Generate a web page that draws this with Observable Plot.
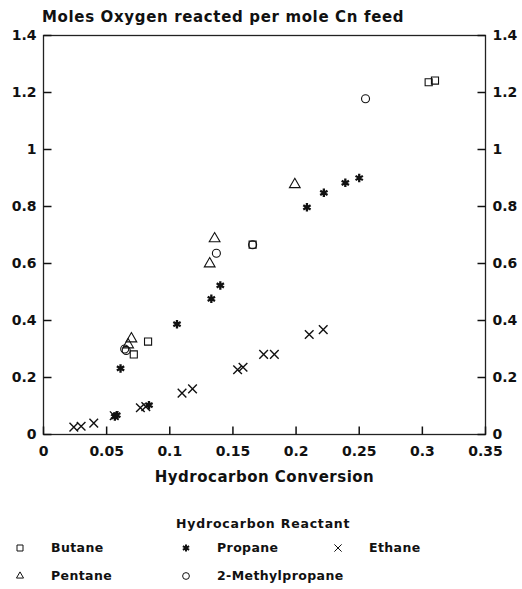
<!DOCTYPE html>
<html><head><meta charset="utf-8">
<script src="https://cdn.jsdelivr.net/npm/d3@7"></script>
<script src="https://cdn.jsdelivr.net/npm/@observablehq/plot@0.6"></script>
<style>
body{margin:0;background:#fff;font-family:"DejaVu Sans",sans-serif;font-weight:bold;color:#111}
#wrap{position:relative;width:522px;height:589px}
#title{position:absolute;left:42px;top:8px;font-size:15px;letter-spacing:0.65px}
#legend{position:absolute;left:0;top:510px;width:522px;font-size:12.5px}
.lt{position:absolute;left:176px;top:6px;letter-spacing:0.8px}
.it{position:absolute;display:flex;align-items:center;letter-spacing:0.4px}
.it svg{margin-right:25px}
</style></head>
<body><div id="wrap"><div id="title">Moles Oxygen reacted per mole Cn feed</div><div id="chart"></div><div id="legend"></div></div>
<script>
const series = ["Butane","Propane","Ethane","Pentane","2-Methylpropane"];
const symbols = ["square","asterisk","times","triangle","circle"];
const butaneX = [0.0715, 0.0828, 0.1656, 0.305, 0.310];
const butaneY = [0.281, 0.326, 0.666, 1.236, 1.242];
const propaneX = [0.0565, 0.058, 0.061, 0.0835, 0.1057, 0.1329, 0.140, 0.2086, 0.222, 0.239, 0.250];
const propaneY = [0.063, 0.068, 0.232, 0.103, 0.387, 0.476, 0.523, 0.797, 0.848, 0.883, 0.900];
const ethaneX = [0.024, 0.0298, 0.0398, 0.056, 0.0767, 0.081, 0.1097, 0.118, 0.1537, 0.158, 0.1743, 0.1828, 0.2104, 0.2215];
const ethaneY = [0.026, 0.029, 0.040, 0.066, 0.094, 0.098, 0.145, 0.160, 0.227, 0.236, 0.281, 0.281, 0.351, 0.368];
const pentaneX = [0.067, 0.0696, 0.1316, 0.1355, 0.199];
const pentaneY = [0.315, 0.336, 0.599, 0.687, 0.877];
const methylX = [0.0643, 0.0655, 0.1369, 0.1656, 0.255];
const methylY = [0.300, 0.295, 0.636, 0.666, 1.178];
const xTicks = [0,0.05,0.1,0.15,0.2,0.25,0.3,0.35];
const yTicks = [0,0.2,0.4,0.6,0.8,1,1.2,1.4];

const xs = [butaneX, propaneX, ethaneX, pentaneX, methylX];
const ys = [butaneY, propaneY, ethaneY, pentaneY, methylY];
const data = [];
series.forEach((s,i)=>xs[i].forEach((x,j)=>data.push({s, x, y: ys[i][j]})));

const W = 522, H = 492, ML = 43, MR = 37, MT = 35, MB = 58, TL = 8;
const xDom = [0, 0.35], yDom = [0, 1.4];
const tx = TL / (W - ML - MR) * (xDom[1] - xDom[0]);
const ty = TL / (H - MT - MB) * (yDom[1] - yDom[0]);
const xt = xTicks.map(v => ({v}));
const yt = yTicks.map(v => ({v}));
const fmt = d => String(+d.toFixed(2));
const chart = Plot.plot({
  width: W, height: H,
  marginLeft: ML, marginRight: MR, marginTop: MT, marginBottom: MB,
  style: {fontFamily: '"DejaVu Sans", sans-serif', fontWeight: "bold", fontSize: "14px", color: "#111", background: "#fff"},
  x: {domain: xDom},
  y: {domain: yDom},
  symbol: {domain: series, range: symbols},
  marks: [
    Plot.frame({stroke: "#222", strokeWidth: 1.3}),
    Plot.link(xt, {x1: "v", x2: "v", y1: () => yDom[0], y2: () => yDom[0] + ty, stroke: "#111", strokeWidth: 1.5}),
    Plot.link(yt, {y1: "v", y2: "v", x1: () => xDom[0], x2: () => xDom[0] + tx, stroke: "#111", strokeWidth: 1.5}),
    Plot.link(yt, {y1: "v", y2: "v", x1: () => xDom[1] - tx, x2: () => xDom[1], stroke: "#111", strokeWidth: 1.5}),
    Plot.axisX({ticks: xTicks, tickFormat: fmt, tickSize: 0, tickPadding: 12, fontSize: 14, label: null}),
    Plot.axisY({ticks: yTicks, tickFormat: fmt, tickSize: 0, tickPadding: 7, fontSize: 14, label: null}),
    Plot.axisY({anchor: "right", ticks: yTicks, tickFormat: fmt, tickSize: 0, tickPadding: 7, fontSize: 14, label: null}),
    Plot.text(["Hydrocarbon Conversion"], {frameAnchor: "bottom", dy: 47, fontSize: 15, fontWeight: "bold"}),
    Plot.dot(data, {x: "x", y: "y", symbol: "s", r: 4, stroke: "#111", strokeWidth: d => d.s === "Propane" ? 2.3 : (d.s === "Ethane" ? 1.4 : 1.1)})
  ]
});
document.getElementById("chart").appendChild(chart);
chart.querySelectorAll("text").forEach(el => { if (el.textContent === "Hydrocarbon Conversion") el.style.letterSpacing = "0.5px"; });

// legend
const leg = document.getElementById("legend");
const t = document.createElement("div"); t.className = "lt"; t.textContent = "Hydrocarbon Reactant"; leg.appendChild(t);
const pos = [[14,30],[180,30],[332,30],[14,58],[180,58]];
series.forEach((s,i)=>{
  const d = document.createElement("div"); d.className = "it";
  d.style.left = pos[i][0] + "px"; d.style.top = pos[i][1] + "px";
  const svg = d3.create("svg").attr("width", 12).attr("height", 14);
  const symType = {square: d3.symbolSquare, asterisk: d3.symbolAsterisk, times: d3.symbolTimes, triangle: d3.symbolTriangle2, circle: d3.symbolCircle}[symbols[i]];
  svg.append("path").attr("transform","translate(6,7)").attr("d", d3.symbol(symType, 36)()).attr("fill","none").attr("stroke","#111").attr("stroke-width", i===1?2:1);
  d.appendChild(svg.node());
  const sp = document.createElement("span"); sp.textContent = s; d.appendChild(sp);
  leg.appendChild(d);
});
</script></body></html>
